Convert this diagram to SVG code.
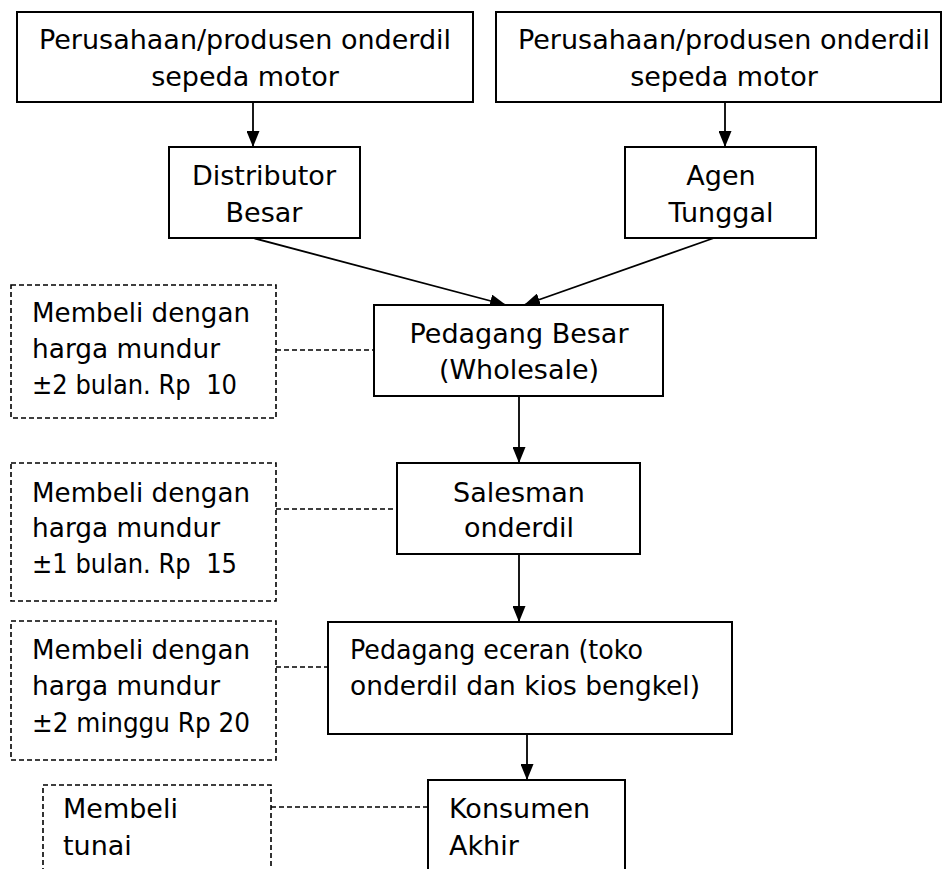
<svg xmlns="http://www.w3.org/2000/svg" width="944" height="869" viewBox="0 0 944 869">
  <style>
    .box { fill: #fff; stroke: #000; stroke-width: 2; }
    .note { fill: #fff; stroke: #000; stroke-width: 1.6; stroke-dasharray: 5 3; }
    .flow { fill: none; stroke: #000; stroke-width: 1.8; }
    .link { fill: none; stroke: #000; stroke-width: 1.6; stroke-dasharray: 5 3; }
    text { font-family: "DejaVu Sans", sans-serif; font-size: 27px; fill: #000; }
    .c { text-anchor: middle; }
  </style>
  <defs>
    <marker id="arrow" viewBox="0 0 16 13" refX="16" refY="6.5" markerWidth="16" markerHeight="13" markerUnits="userSpaceOnUse" orient="auto">
      <path d="M0,0 L16,6.5 L0,13 Z" fill="#000"/>
    </marker>
  </defs>

  <!-- connectors -->
  <g id="connectors">
    <line class="flow" x1="253" y1="102" x2="253" y2="147" marker-end="url(#arrow)"/>
    <line class="flow" x1="725" y1="102" x2="725" y2="147" marker-end="url(#arrow)"/>
    <line class="flow" x1="253" y1="238" x2="506" y2="305" marker-end="url(#arrow)"/>
    <line class="flow" x1="714" y1="238" x2="524" y2="305" marker-end="url(#arrow)"/>
    <line class="flow" x1="519" y1="396" x2="519" y2="463" marker-end="url(#arrow)"/>
    <line class="flow" x1="519" y1="554" x2="519" y2="622" marker-end="url(#arrow)"/>
    <line class="flow" x1="527" y1="734" x2="527" y2="780" marker-end="url(#arrow)"/>
    <line class="link" x1="276" y1="350" x2="374" y2="350"/>
    <line class="link" x1="276" y1="509" x2="397" y2="509"/>
    <line class="link" x1="276" y1="667" x2="328" y2="667"/>
    <line class="link" x1="271" y1="807" x2="428" y2="807"/>
  </g>

  <g id="produsen-1">
    <rect class="box" x="17" y="12" width="456" height="90"/>
    <text class="c" x="245" y="49">Perusahaan/produsen onderdil</text>
    <text class="c" x="245" y="86">sepeda motor</text>
  </g>

  <g id="produsen-2">
    <rect class="box" x="496" y="12" width="445" height="90"/>
    <text class="c" x="724" y="49">Perusahaan/produsen onderdil</text>
    <text class="c" x="724" y="86">sepeda motor</text>
  </g>

  <g id="distributor">
    <rect class="box" x="169" y="147" width="191" height="91"/>
    <text class="c" x="264" y="185">Distributor</text>
    <text class="c" x="264" y="222">Besar</text>
  </g>

  <g id="agen">
    <rect class="box" x="625" y="147" width="191" height="91"/>
    <text class="c" x="721" y="185">Agen</text>
    <text class="c" x="721" y="222">Tunggal</text>
  </g>

  <g id="pedagang-besar">
    <rect class="box" x="374" y="305" width="289" height="91"/>
    <text class="c" x="519" y="343">Pedagang Besar</text>
    <text class="c" x="519" y="379">(Wholesale)</text>
  </g>

  <g id="salesman">
    <rect class="box" x="397" y="463" width="243" height="91"/>
    <text class="c" x="519" y="502">Salesman</text>
    <text class="c" x="519" y="537">onderdil</text>
  </g>

  <g id="pedagang-eceran">
    <rect class="box" x="328" y="622" width="404" height="112"/>
    <text x="350" y="659" textLength="293" lengthAdjust="spacingAndGlyphs">Pedagang eceran (toko</text>
    <text x="350" y="695" textLength="350" lengthAdjust="spacingAndGlyphs">onderdil dan kios bengkel)</text>
  </g>

  <g id="konsumen">
    <rect class="box" x="428" y="780" width="197" height="100"/>
    <text x="449" y="818">Konsumen</text>
    <text x="449" y="855">Akhir</text>
  </g>

  <g id="catatan-1">
    <rect class="note" x="11" y="285" width="265" height="133"/>
    <text x="32" y="322" textLength="218" lengthAdjust="spacingAndGlyphs">Membeli dengan</text>
    <text x="32" y="358" textLength="188" lengthAdjust="spacingAndGlyphs">harga mundur</text>
    <text x="32" y="394" textLength="205" lengthAdjust="spacingAndGlyphs" xml:space="preserve">±2 bulan. Rp  10</text>
  </g>

  <g id="catatan-2">
    <rect class="note" x="11" y="463" width="265" height="138"/>
    <text x="32" y="502" textLength="218" lengthAdjust="spacingAndGlyphs">Membeli dengan</text>
    <text x="32" y="537" textLength="188" lengthAdjust="spacingAndGlyphs">harga mundur</text>
    <text x="32" y="573" textLength="205" lengthAdjust="spacingAndGlyphs" xml:space="preserve">±1 bulan. Rp  15</text>
  </g>

  <g id="catatan-3">
    <rect class="note" x="11" y="621" width="265" height="139"/>
    <text x="32" y="659" textLength="218" lengthAdjust="spacingAndGlyphs">Membeli dengan</text>
    <text x="32" y="695" textLength="188" lengthAdjust="spacingAndGlyphs">harga mundur</text>
    <text x="32" y="732" textLength="218" lengthAdjust="spacingAndGlyphs">±2 minggu Rp 20</text>
  </g>

  <g id="catatan-4">
    <rect class="note" x="43" y="785" width="228" height="100"/>
    <text x="63" y="818">Membeli</text>
    <text x="63" y="855">tunai</text>
  </g>
</svg>
